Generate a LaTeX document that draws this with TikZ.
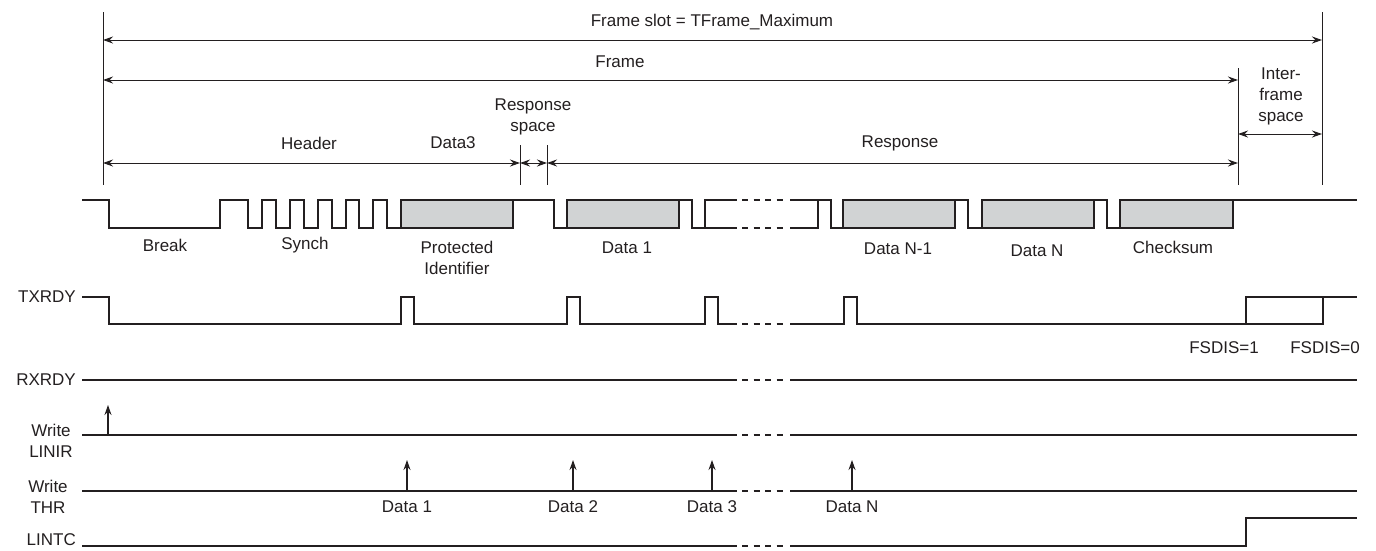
\documentclass[tikz,border=0pt]{standalone}
\usepackage{fontspec}
\setmainfont{Liberation Sans}
\usetikzlibrary{arrows.meta}
\definecolor{ink}{HTML}{231F20}
\definecolor{boxgray}{HTML}{D1D3D4}
\tikzset{
  wave/.style={line width=1.9pt, draw=ink, line join=miter, line cap=butt},
  dimline/.style={line width=1pt, draw=ink},
  dimarrow/.style={dimline, {Stealth[length=10pt,width=7pt]}-{Stealth[length=10pt,width=7pt]}},
  uparrow/.style={dimline, line width=1.2pt, -{Stealth[length=10pt,width=7pt]}},
  lbl/.style={font=\fontsize{17}{21}\selectfont, text=ink, inner sep=0pt, align=center},
  gapdash/.style={wave, dash pattern=on 6pt off 5.5pt},
  databox/.style={wave, fill=boxgray},
}
\begin{document}
\begin{tikzpicture}[x=1pt,y=-1pt]
\useasboundingbox (0,0) rectangle (1376,550);

% ---- dimension reference lines ----
\coordinate (tL) at (103,12);   \coordinate (bL) at (103,185);
\coordinate (tF) at (1238,68);  \coordinate (bF) at (1238,185);
\coordinate (tR) at (1322,12);  \coordinate (bR) at (1322,185);
\coordinate (tS1) at (520,145); \coordinate (bS1) at (520,185);
\coordinate (tS2) at (547,145); \coordinate (bS2) at (547,185);
\draw[dimline] (tL) -- (bL);
\draw[dimline] (tF) -- (bF);
\draw[dimline] (tR) -- (bR);
\draw[dimline] (tS1) -- (bS1);
\draw[dimline] (tS2) -- (bS2);

% ---- dimension arrows ----
\coordinate (a1l) at (103,40);  \coordinate (a1r) at (1322,40);
\coordinate (a2l) at (103,80);  \coordinate (a2r) at (1238,80);
\coordinate (h0) at (103,163);  \coordinate (h1) at (520,163);
\coordinate (h2) at (547,163);  \coordinate (h3) at (1238,163);
\coordinate (i0) at (1238,134); \coordinate (i1) at (1322,134);
\draw[dimarrow] (a1l) -- (a1r);
\draw[dimarrow] (a2l) -- (a2r);
\draw[dimarrow] (h0) -- (h1);
\draw[dimarrow] (h1) -- (h2);
\draw[dimarrow] (h2) -- (h3);
\draw[dimarrow] (i0) -- (i1);

\node[lbl] (tslot) at (712,22) {Frame slot = TFrame\_Maximum};
\node[lbl] (tframe) at (620,62) {Frame};
\node[lbl] (theader) at (309,143) {Header};
\node[lbl] (tdata3) at (453,143) {Data3};
\node[lbl] (trspace) at (533,117) {Response\\space};
\node[lbl] (tresp) at (900,143) {Response};
\node[lbl] (tifs) at (1281,96) {Inter-\\frame\\space};

% ---- LIN bus waveform ----
\draw[wave] (82,200) -- (109,200) -- (109,228) -- (220,228) -- (220,200)
  -- (248,200) -- (248,228) -- (262,228) -- (262,200) -- (276,200) -- (276,228)
  -- (290,228) -- (290,200) -- (304,200) -- (304,228) -- (318,228) -- (318,200)
  -- (332,200) -- (332,228) -- (346,228) -- (346,200) -- (359,200) -- (359,228)
  -- (373,228) -- (373,200) -- (387,200) -- (387,228) -- (401,228);
\draw[databox] (401,200) rectangle (513,228);
\draw[wave] (513,200) -- (554,200) -- (554,228) -- (567,228);
\draw[databox] (567,200) rectangle (679,228);
\draw[wave] (679,200) -- (692,200) -- (692,228) -- (737,228);
\draw[wave] (705,228) -- (705,200) -- (737,200);
\draw[gapdash] (742,200) -- (786,200);
\draw[gapdash] (742,228) -- (786,228);
\draw[wave] (790,228) -- (818,228) -- (818,200);
\draw[wave] (790,200) -- (831,200) -- (831,228) -- (843,228);
\draw[databox] (843,200) rectangle (955,228);
\draw[wave] (955,200) -- (968,200) -- (968,228) -- (982,228);
\draw[databox] (982,200) rectangle (1094,228);
\draw[wave] (1094,200) -- (1107,200) -- (1107,228) -- (1120,228);
\draw[databox] (1120,200) rectangle (1233,228);
\draw[wave] (1233,200) -- (1357,200);

\node[lbl] (lbreak) at (165,245) {Break};
\node[lbl] (lsynch) at (305,245) {Synch};
\node[lbl] (lpid) at (457,258) {Protected\\Identifier};
\node[lbl] (ld1) at (627,248) {Data 1};
\node[lbl] (ldn1) at (898,249) {Data N-1};
\node[lbl] (ldn) at (1037,251) {Data N};
\node[lbl] (lcs) at (1173,247) {Checksum};

% ---- TXRDY ----
\node[lbl, anchor=east] (ltx) at (76,297) {TXRDY};
\draw[wave] (82,297) -- (109,297) -- (109,324) -- (401,324) -- (401,297)
  -- (414,297) -- (414,324) -- (567,324) -- (567,297) -- (580,297) -- (580,324)
  -- (705,324) -- (705,297) -- (718,297) -- (718,324) -- (737,324);
\draw[gapdash] (742,324) -- (786,324);
\draw[wave] (790,324) -- (844,324) -- (844,297) -- (857,297) -- (857,324)
  -- (1323,324) -- (1323,297);
\draw[wave] (1246,324) -- (1246,297) -- (1357,297);
\node[lbl] (lfs1) at (1224,348) {FSDIS=1};
\node[lbl] (lfs0) at (1325,348) {FSDIS=0};

% ---- RXRDY ----
\node[lbl, anchor=east] (lrx) at (76,380) {RXRDY};
\draw[wave] (82,380) -- (737,380);
\draw[gapdash] (742,380) -- (786,380);
\draw[wave] (790,380) -- (1357,380);

% ---- Write LINIR ----
\node[lbl] (llinir) at (51,441) {Write\\LINIR};
\draw[wave] (82,435) -- (737,435);
\draw[gapdash] (742,435) -- (786,435);
\draw[wave] (790,435) -- (1357,435);
\coordinate (wl0) at (108,434); \coordinate (wl1) at (108,405);
\draw[uparrow] (wl0) -- (wl1);

% ---- Write THR ----
\node[lbl] (lthr) at (48,497) {Write\\THR};
\draw[wave] (82,491) -- (737,491);
\draw[gapdash] (742,491) -- (786,491);
\draw[wave] (790,491) -- (1357,491);
\foreach \xx/\nm/\tx in {407/w1/Data 1, 573/w2/Data 2, 712/w3/Data 3, 852/wn/Data N}{
  \coordinate (\nm a) at (\xx,490);
  \coordinate (\nm b) at (\xx,460);
  \draw[uparrow] (\nm a) -- (\nm b);
  \node[lbl] (\nm t) at (\xx,507) {\tx};
}

% ---- LINTC ----
\node[lbl, anchor=east] (ltc) at (76,540) {LINTC};
\draw[wave] (82,546) -- (737,546);
\draw[gapdash] (742,546) -- (786,546);
\draw[wave] (790,546) -- (1246,546) -- (1246,518) -- (1357,518);
\end{tikzpicture}
\end{document}
